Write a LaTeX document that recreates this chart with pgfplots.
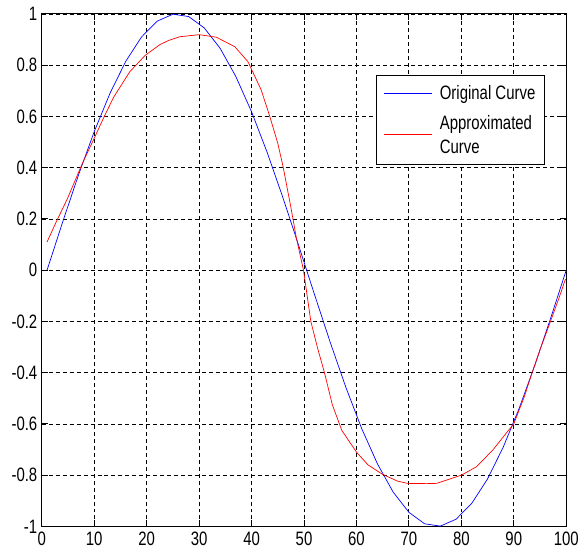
\documentclass[border=0pt]{standalone}
\usepackage{fontspec}
\setmainfont[FakeStretch=0.77]{Liberation Sans}
\usepackage{pgfplots}
\pgfplotsset{compat=1.18}

% original curve, sampled every 3 units
\pgfplotstableread{
x y
1 0
4 0.18925
7 0.37166
10 0.54064
13 0.69007
16 0.81458
19 0.90963
22 0.97181
25 0.99887
28 0.98982
31 0.94500
34 0.86603
37 0.75575
40 0.61816
43 0.45822
46 0.28173
49 0.09506
52 -0.09506
55 -0.28173
58 -0.45822
61 -0.61816
64 -0.75575
67 -0.86603
70 -0.94500
73 -0.98982
76 -0.99887
79 -0.97181
82 -0.90963
85 -0.81458
88 -0.69007
91 -0.54064
94 -0.37166
97 -0.18925
100 0
}\orig

% approximated curve
\pgfplotstableread{
x y
1 0.11
2.9 0.195
4.8 0.275
7.7 0.415
10 0.515
11.8 0.595
13.7 0.675
16.8 0.775
19.7 0.838
22.5 0.880
24.1 0.896
26.3 0.911
30 0.919
33.3 0.909
36.8 0.872
39.3 0.814
41.8 0.705
43.4 0.605
45 0.495
46 0.405
47.5 0.245
48.5 0.13
49.9 0.0
51.3 -0.2
52.6 -0.305
53.9 -0.4
55.4 -0.525
57.2 -0.625
60 -0.71
62.2 -0.76
65 -0.797
67.8 -0.823
69.7 -0.832
73.4 -0.833
75.3 -0.832
80 -0.80
82.9 -0.767
86 -0.702
88.8 -0.63
90 -0.6
92 -0.494
93.5 -0.4
95.1 -0.305
97 -0.2
98.6 -0.11
99.85 -0.035
}\approxc

\begin{document}
\begin{tikzpicture}[x=1pt,y=1pt]
\path (0,0) rectangle (582,556);
\begin{axis}[
  scale only axis, width=527pt, height=515pt,
  at={(42pt,27pt)}, anchor=south west,
  xmin=0, xmax=100, ymin=-1, ymax=1,
  xtick={0,10,...,100},
  ytick={-1,-0.8,-0.6,-0.4,-0.2,0,0.2,0.4,0.6,0.8,1},
  yticklabels={-1,-0.8,-0.6,-0.4,-0.2,0,0.2,0.4,0.6,0.8,1},
  /pgf/number format/assume math mode=true,
  tick label style={font=\fontsize{19.5}{22}\selectfont, black},
  tick align=inside, major tick length=6pt,
  every tick/.style={black, line width=1pt},
  axis line style={black, line width=1.1pt},
  grid=major,
  grid style={black, line width=0.8pt, dash pattern=on 4pt off 3pt},
  xticklabel style={yshift=-2pt},
  yticklabel style={xshift=-1pt},
  legend style={at={(0.959,0.880)}, anchor=north east, draw=black,
    line width=0.8pt, fill=white,
    font=\fontsize{19.5}{24}\selectfont, inner xsep=7pt, inner ysep=8pt,
    row sep=10pt},
  legend cell align=left,
  legend style={cells={align=left}},
]
\addplot[blue, line width=0.7pt,
  legend image code/.code={\draw[blue, line width=1pt] (0pt,0pt) -- (48pt,0pt); \path (54pt,0pt);}]
  table {\orig};
\addplot[red, line width=0.7pt,
  legend image code/.code={\draw[red, line width=1pt] (0pt,0pt) -- (48pt,0pt); \path (54pt,0pt);}]
  table {\approxc};
\legend{Original Curve, {Approximated\\Curve}}
\end{axis}
\end{tikzpicture}
\end{document}
